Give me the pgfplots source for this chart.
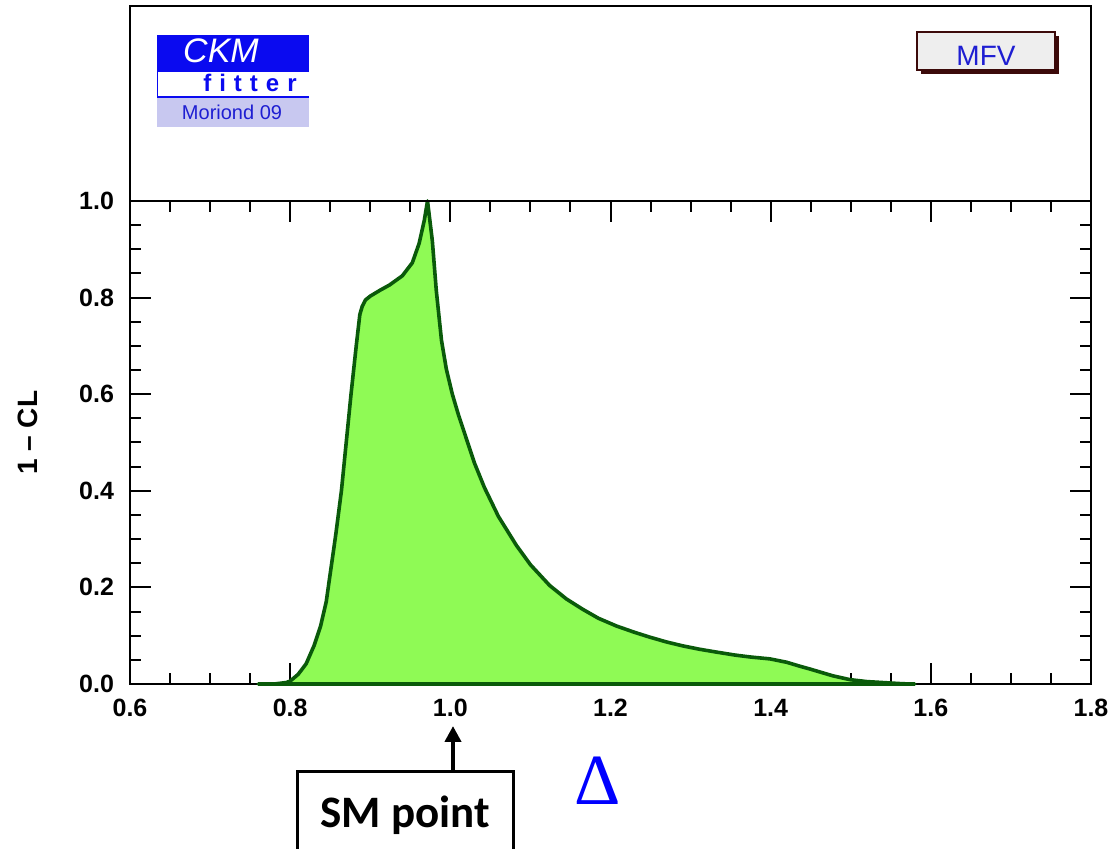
\documentclass[border=0pt]{standalone}
\usepackage{pgfplots}
\pgfplotsset{compat=1.18}
\usepackage{fontspec}
\setmainfont{Liberation Sans}
\newfontfamily\serifG{Liberation Serif}
\newfontfamily\smfont{Carlito}
\usetikzlibrary{arrows.meta}
\definecolor{fillgreen}{RGB}{143,250,85}
\definecolor{linegreen}{RGB}{10,90,10}
\definecolor{ckmblue}{RGB}{10,10,240}
\definecolor{morbg}{RGB}{200,200,240}
\definecolor{txtblue}{RGB}{30,30,210}
\definecolor{mfvborder}{RGB}{60,10,10}
\definecolor{mfvbg}{RGB}{238,238,238}
\begin{document}
\begin{tikzpicture}
\begin{axis}[
  at={(0,0)}, anchor=south west,
  scale only axis, width=480.5pt, height=241.5pt,
  xmin=0.6, xmax=1.8, ymin=0, ymax=1,
  xtick={0.6,0.8,...,1.8}, ytick={0,0.2,...,1.0},
  minor x tick num=3, minor y tick num=3,
  major tick length=10.5pt, minor tick length=5.5pt,
  tick style={black, line width=1pt},
  axis line style={line width=1pt},
  tick align=inside,
  /pgf/number format/assume math mode=true,
  xticklabel style={/pgf/number format/.cd, fixed, fixed zerofill, precision=1},
  yticklabel style={/pgf/number format/.cd, fixed, fixed zerofill, precision=1},
  ticklabel style={font=\bfseries\fontsize{12.5}{12.5}\selectfont},
  xticklabel shift={4pt}, yticklabel shift={4.5pt},
  every axis y label/.style={at={(axis description cs:-0.106,0.52)}, rotate=90, anchor=center},
  ylabel={\bfseries\fontsize{14}{14}\selectfont 1 -- CL},
  clip=false,
]
\addplot[draw=linegreen, line width=1.8pt, line join=round, fill=fillgreen] coordinates {
(0.76,0) (0.78,0) (0.795,0.003) (0.80,0.006) (0.81,0.02) (0.82,0.042) (0.83,0.08)
(0.838,0.12) (0.845,0.17) (0.851,0.24) (0.857,0.31) (0.864,0.40) (0.870,0.50)
(0.876,0.60) (0.8825,0.70) (0.887,0.765) (0.890,0.782) (0.894,0.795) (0.90,0.803) (0.912,0.815)
(0.924,0.826) (0.94,0.845) (0.9525,0.872) (0.961,0.912) (0.9675,0.96) (0.9715,1.0)
(0.9775,0.918) (0.9825,0.814) (0.989,0.711) (0.995,0.652) (1.0025,0.60) (1.01,0.558)
(1.02,0.508) (1.03,0.458) (1.0425,0.407) (1.06,0.347) (1.0825,0.287) (1.10,0.247)
(1.124,0.204) (1.145,0.176) (1.165,0.155) (1.185,0.136) (1.2075,0.12) (1.23,0.107)
(1.249,0.097) (1.27,0.087) (1.29,0.079) (1.311,0.072) (1.3325,0.066) (1.355,0.060)
(1.374,0.056) (1.399,0.052) (1.42,0.045) (1.436,0.037) (1.449,0.031) (1.4775,0.017)
(1.499,0.009) (1.52,0.005) (1.54,0.003) (1.565,0.0005) (1.58,0)
} \closedcycle;
\end{axis}
\begin{scope}[x=0.5pt, y=-0.5pt, shift={(-65pt,342pt)}]
  % header frame
  \draw[line width=1pt] (130,6) rectangle (1091,201);
  % CKMfitter logo
  \fill[ckmblue] (157,35) rectangle (309,72);
  \fill[morbg] (157,97) rectangle (309,127);
  \draw[ckmblue, line width=0.8pt] (157.5,72) -- (157.5,97) -- (309,97);
  \node[anchor=base, inner sep=0, text=white] at (221,63) {\itshape\fontsize{17}{17}\selectfont CKM};
  \node[anchor=base, inner sep=0, text=ckmblue] at (250,92) {\bfseries\fontsize{12}{12}\selectfont f\hspace{4pt}i\hspace{4pt}t\hspace{4pt}t\hspace{4pt}e\hspace{4pt}r};
  \node[anchor=base, inner sep=0, text=txtblue] at (232,120) {\fontsize{10}{10}\selectfont Moriond 09};
  % MFV box
  \fill[mfvborder] (921,36) rectangle (1059,74);
  \filldraw[fill=mfvbg, draw=mfvborder, line width=1.2pt] (917,32) rectangle (1055,70);
  \node[anchor=base, inner sep=0, text=txtblue] at (986,66) {\fontsize{14}{14}\selectfont MFV};
  % SM point annotation
  \draw[line width=1.5pt] (297,860) -- (297,772) -- (513,772) -- (513,860);
  \node[anchor=base, inner sep=0] at (405,828) {\smfont\bfseries\fontsize{22.5}{22.5}\selectfont SM point};
  \draw[line width=2pt, -{Triangle[width=8pt,length=8pt]}] (453,772) -- (453,726);
  % Delta
  \node[anchor=base, inner sep=0, text=blue] at (598,805) {\serifG\fontsize{36}{36}\selectfont Δ};
  \pgfresetboundingbox
  \path[use as bounding box] (0,0) rectangle (1113,849);
\end{scope}
\end{tikzpicture}
\end{document}
